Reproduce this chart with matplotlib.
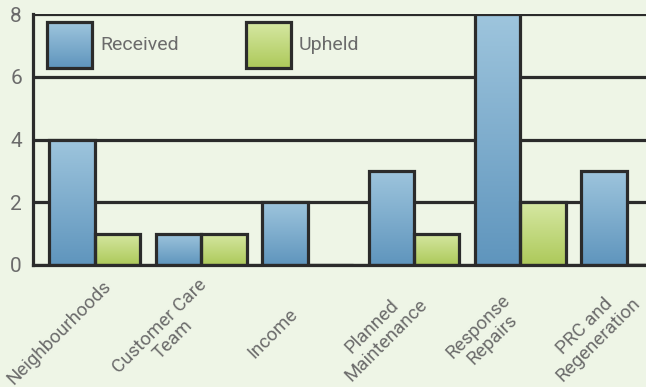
import numpy as np
import matplotlib
matplotlib.use("Agg")
import matplotlib.pyplot as plt
from matplotlib.colors import LinearSegmentedColormap
from matplotlib.patches import Rectangle
from matplotlib.transforms import ScaledTranslation

categories = ["Neighbourhoods", "Customer Care\nTeam", "Income", "Planned\nMaintenance",
              "Response\nRepairs", "PRC and\nRegeneration"]
received = [4, 1, 2, 3, 8, 3]
upheld = [1, 1, 0, 1, 2, 0]
series_names = ["Received", "Upheld"]
yticks = [0, 2, 4, 6, 8]

bg = "#eef5e6"
edge = "#2b2b2b"
txt = "#6b6b6b"
blue_cmap = LinearSegmentedColormap.from_list("b", ["#5f95bd", "#9ec5dd"])
green_cmap = LinearSegmentedColormap.from_list("g", ["#adc95a", "#d6e8a3"])

plt.rcParams['font.family'] = ['Roboto', 'DejaVu Sans']
fw = 'normal'

fig = plt.figure(figsize=(6.46, 3.87), dpi=100, facecolor=bg)
ax = fig.add_axes([33/646, 122/387, 613/646, 251/387], facecolor=bg)

x = np.arange(len(categories))
w = 0.427
grad = np.linspace(0, 1, 256).reshape(-1, 1)

def draw_bars(xs, vals, cmap):
    bars = ax.bar(xs, vals, width=w, facecolor="none", edgecolor=edge, linewidth=2.3, zorder=3)
    for b in bars:
        h = b.get_height()
        if h <= 0:
            continue
        x0 = b.get_x()
        im = ax.imshow(grad, extent=[x0, x0 + b.get_width(), 0, h], origin='lower',
                       aspect='auto', cmap=cmap, zorder=2)
        im.set_clip_path(b)
    return bars

draw_bars(x - w/2, received, blue_cmap)
draw_bars(x + w/2, upheld, green_cmap)

ax.set_xlim(-0.58, 5.18)
ax.set_ylim(0, 8)
ax.set_yticks(yticks)
ax.set_yticklabels([str(v) for v in yticks])
ax.grid(axis='y', color=edge, linewidth=2.3, zorder=0)
ax.set_axisbelow(True)
for s in ["top", "right"]:
    ax.spines[s].set_visible(False)
for s in ["left", "bottom"]:
    ax.spines[s].set_color(edge)
    ax.spines[s].set_linewidth(2.3)
ax.tick_params(axis='both', length=0, colors=txt, labelsize=15)
ax.tick_params(axis='y', pad=8)
for lab in ax.get_yticklabels():
    lab.set_fontweight(fw)
ax.set_xticks(x)
ax.set_xticklabels([])

# category labels, rotated and centred below each group
off = ScaledTranslation(-35/100, -68/100, fig.dpi_scale_trans)
for xi, cat in zip(x, categories):
    ax.text(xi, 0, cat, transform=ax.get_xaxis_transform() + off, rotation=45,
            rotation_mode='anchor', ha='center', va='center', multialignment='center',
            fontsize=13.5, color=txt, fontweight=fw, linespacing=1.1)

# legend swatches
for i, (name, cmap) in enumerate(zip(series_names, [blue_cmap, green_cmap])):
    lx0 = (47 - 33 + i * 199) / 613
    lw = 45 / 613
    ly1 = 1 - (22 - 14) / 251
    lh = 46 / 251
    im = ax.imshow(grad, extent=[lx0, lx0 + lw, ly1 - lh, ly1], origin='lower', aspect='auto',
                   cmap=cmap, transform=ax.transAxes, zorder=5)
    r = Rectangle((lx0, ly1 - lh), lw, lh, transform=ax.transAxes, facecolor='none',
                  edgecolor=edge, linewidth=2.3, zorder=6)
    ax.add_patch(r)
    im.set_clip_path(r)
    ax.text(lx0 + lw + 8 / 613, ly1 - lh / 2, name, transform=ax.transAxes, va='center',
            ha='left', fontsize=14, color=txt, fontweight=fw, zorder=6)

ax.set_xlim(-0.58, 5.18)
ax.set_ylim(0, 8)
fig.savefig("out.png", dpi=100, facecolor=bg)
